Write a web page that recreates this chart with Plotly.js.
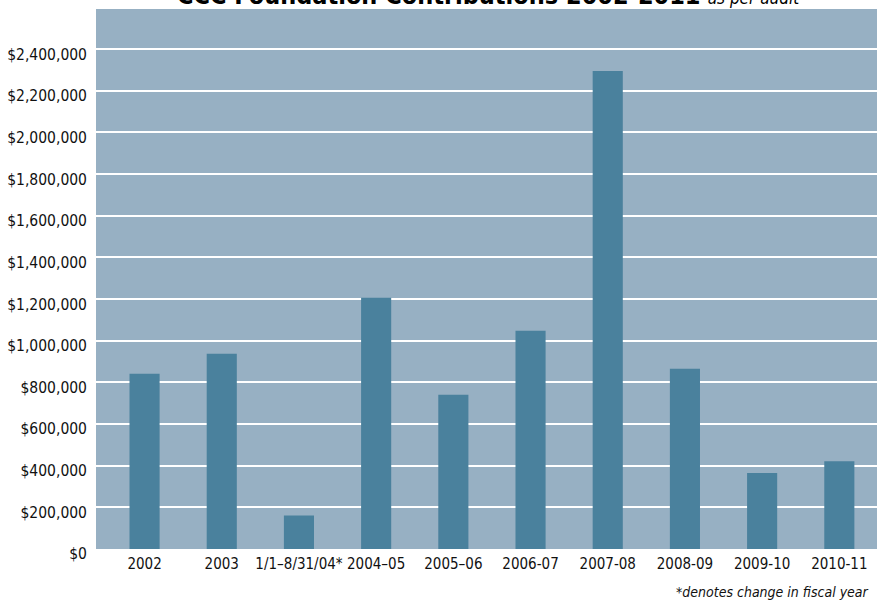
<!DOCTYPE html>
<html>
<head>
<meta charset="utf-8">
<script src="https://cdn.plot.ly/plotly-3.0.1.min.js"></script>
<style>html,body{margin:0;padding:0;background:#fff;}#chart{width:877px;height:602px;}</style>
</head>
<body>
<div id="chart"></div>
<script>
const categories = ["2002","2003","1/1\u20138/31/04*","2004\u201305","2005\u201306","2006-07","2007-08","2008-09","2009-10","2010-11"];
const contributions = [842000, 937000, 161000, 1207000, 741000, 1048000, 2295000, 866000, 365000, 421000];
const yTickValues = [0,200000,400000,600000,800000,1000000,1200000,1400000,1600000,1800000,2000000,2200000,2400000];
const yTickLabels = ["$0","$200,000","$400,000","$600,000","$800,000","$1,000,000","$1,200,000","$1,400,000","$1,600,000","$1,800,000","$2,000,000","$2,200,000","$2,400,000"];
const titleMain = "CCC Foundation Contributions 2002-2011";
const titleSub = "as per audit";
const footnote = "*denotes change in fiscal year";

const FONT = "'DejaVu Sans Condensed', 'Liberation Sans Narrow', sans-serif";

const trace = {
  type: "bar",
  x: categories,
  y: contributions,
  marker: {color: "#4a819d", line: {width: 0}},
  hoverinfo: "x+y"
};

const layout = {
  width: 877,
  height: 602,
  margin: {l: 96, r: 0, t: 9, b: 53, pad: 0},
  paper_bgcolor: "#ffffff",
  plot_bgcolor: "#97b0c3",
  bargap: 0.61,
  showlegend: false,
  xaxis: {
    type: "category",
    range: [-0.629, 9.488],
    showgrid: false,
    zeroline: false,
    showline: false,
    ticks: "",
    tickangle: 0,
    tickfont: {family: FONT, size: 15, color: "#111"},
    ticklabelstandoff: 4
  },
  yaxis: {
    range: [0, 2593000],
    tickmode: "array",
    tickvals: yTickValues,
    ticktext: yTickLabels,
    showgrid: true,
    gridcolor: "#ffffff",
    gridwidth: 2,
    zeroline: false,
    showline: false,
    ticks: "",
    tickfont: {family: FONT, size: 15.5, color: "#111"},
    ticklabelshift: 5,
    ticklabelstandoff: 8
  },
  annotations: [
    {
      xref: "paper", yref: "paper", x: 0.503, y: 1, xanchor: "center", yanchor: "bottom", yshift: -3,
      showarrow: false,
      text: "<b>" + titleMain + "</b> <i><span style='font-size:17px'>" + titleSub + "</span></i>",
      font: {family: FONT, size: 25, color: "#000"}
    },
    {
      xref: "paper", yref: "paper", x: (674 - 96) / 781, y: 0, xanchor: "left", yanchor: "top", yshift: -33,
      showarrow: false,
      text: "<i>" + footnote + "</i>",
      font: {family: FONT, size: 14, color: "#111"}
    }
  ]
};

Plotly.newPlot("chart", [trace], layout, {displayModeBar: false, staticPlot: true});
</script>
</body>
</html>
